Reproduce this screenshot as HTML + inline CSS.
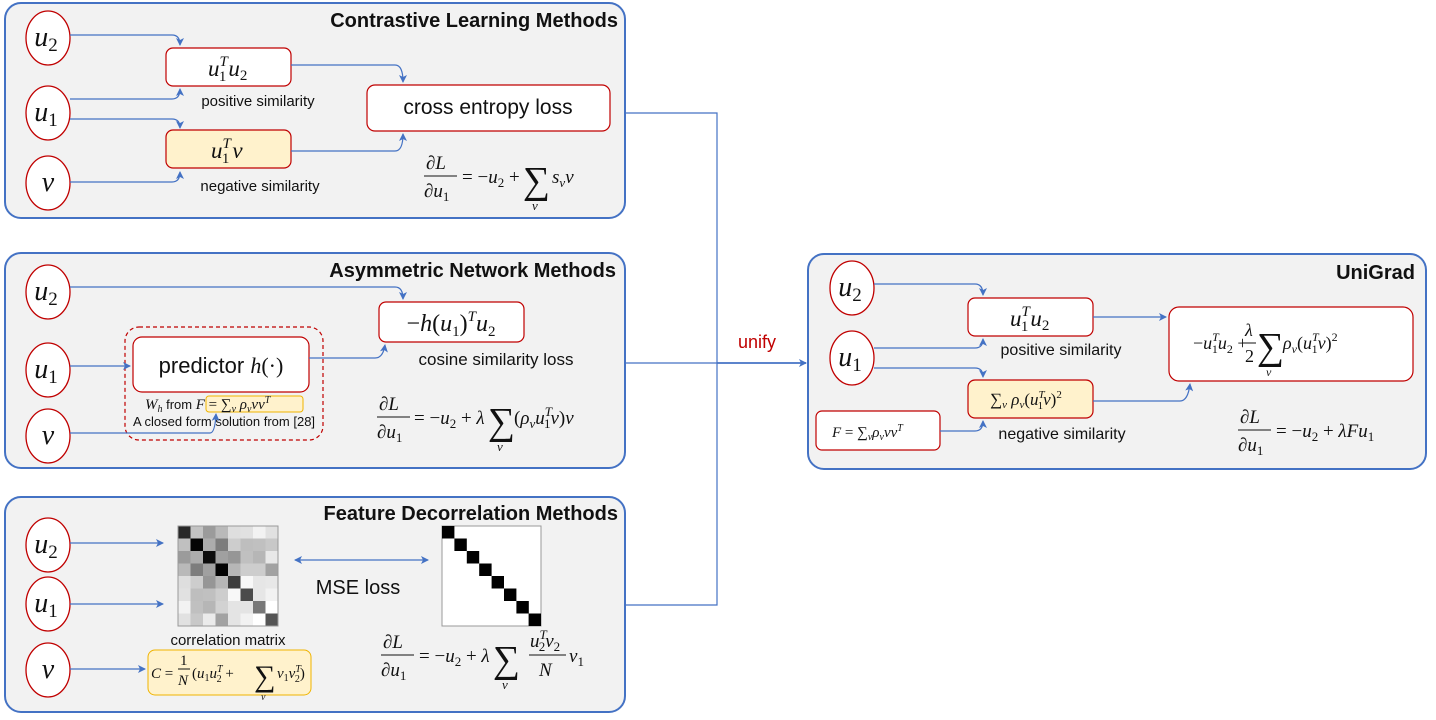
<!DOCTYPE html>
<html><head><meta charset="utf-8"><style>
html,body{margin:0;padding:0;background:#fff;}
svg{display:block;}
.s{font-family:"Liberation Sans",sans-serif;fill:#111;}
.m{font-family:"Liberation Serif","DejaVu Serif",serif;font-style:italic;fill:#111;}
.r{font-family:"Liberation Serif","DejaVu Serif",serif;fill:#111;}
.n{font-style:normal;}
.i{font-style:italic;}
.t{font-family:"Liberation Sans",sans-serif;font-weight:bold;fill:#111;font-size:20px;}
.c{fill:none;stroke:#4472c4;stroke-width:1.2;}
</style></head><body>
<svg width="1436" height="720" viewBox="0 0 1436 720" xmlns="http://www.w3.org/2000/svg">
<defs><marker id="a" markerWidth="8" markerHeight="8" refX="7" refY="4" orient="auto" markerUnits="userSpaceOnUse"><path d="M0,0 L8,4 L0,8 L2,4 z" fill="#4472c4"/></marker>
<marker id="b" markerWidth="8" markerHeight="8" refX="1" refY="4" orient="auto" markerUnits="userSpaceOnUse"><path d="M8,0 L0,4 L8,8 L6,4 z" fill="#4472c4"/></marker></defs>

<g fill="#f2f2f2" stroke="#4472c4" stroke-width="2">
<rect x="5" y="3" width="620" height="215" rx="16"/>
<rect x="5" y="253" width="620" height="215" rx="16"/>
<rect x="5" y="497" width="620" height="215" rx="16"/>
<rect x="808" y="254" width="618" height="215" rx="16"/>
</g>
<text class="t" x="618" y="27" text-anchor="end">Contrastive Learning Methods</text>
<text class="t" x="616" y="277" text-anchor="end">Asymmetric Network Methods</text>
<text class="t" x="618" y="520" text-anchor="end">Feature Decorrelation Methods</text>
<text class="t" x="1415" y="279" text-anchor="end">UniGrad</text>

<path class="c" d="M625,113 H717 V605 H625"/>
<path class="c" d="M625,363 H717"/>
<path d="M717,363 H806" fill="none" stroke="#4472c4" stroke-width="1.8" marker-end="url(#a)"/>
<text x="757" y="348" text-anchor="middle" class="s" style="fill:#c00000;font-size:18px">unify</text>

<g fill="#fff" stroke="#c00000" stroke-width="1.3">
<ellipse cx="48" cy="38" rx="22" ry="27"/><ellipse cx="48" cy="113" rx="22" ry="27"/><ellipse cx="48" cy="183" rx="22" ry="27"/>
<ellipse cx="48" cy="292" rx="22" ry="27"/><ellipse cx="48" cy="370" rx="22" ry="27"/><ellipse cx="48" cy="436" rx="22" ry="27"/>
<ellipse cx="48" cy="545" rx="22" ry="27"/><ellipse cx="48" cy="604" rx="22" ry="27"/><ellipse cx="48" cy="670" rx="22" ry="27"/>
<ellipse cx="852" cy="288" rx="22" ry="27"/><ellipse cx="852" cy="358" rx="22" ry="27"/>
</g>
<g class="m" font-size="28" text-anchor="middle">
<text x="46" y="46">u<tspan class="n" font-size="19" dy="5">2</tspan></text>
<text x="46" y="121">u<tspan class="n" font-size="19" dy="5">1</tspan></text>
<text x="48" y="191">v</text>
<text x="46" y="300">u<tspan class="n" font-size="19" dy="5">2</tspan></text>
<text x="46" y="378">u<tspan class="n" font-size="19" dy="5">1</tspan></text>
<text x="48" y="444">v</text>
<text x="46" y="553">u<tspan class="n" font-size="19" dy="5">2</tspan></text>
<text x="46" y="612">u<tspan class="n" font-size="19" dy="5">1</tspan></text>
<text x="48" y="678">v</text>
<text x="850" y="296">u<tspan class="n" font-size="19" dy="5">2</tspan></text>
<text x="850" y="366">u<tspan class="n" font-size="19" dy="5">1</tspan></text>
</g>

<!-- Panel 1 -->
<rect x="166" y="48" width="125" height="38" rx="7" fill="#fff" stroke="#c00000" stroke-width="1.2"/>
<rect x="166" y="130" width="125" height="38" rx="7" fill="#fff2cc" stroke="#c00000" stroke-width="1.2"/>
<rect x="367" y="85" width="243" height="46" rx="8" fill="#fff" stroke="#c00000" stroke-width="1.2"/>
<text class="m" x="208" y="76" font-size="23">u<tspan font-size="15" dy="-10">T</tspan><tspan font-size="15" class="n" dx="-9" dy="15">1</tspan><tspan font-size="23" dx="2" dy="-5">u</tspan><tspan font-size="15" class="n" dy="4">2</tspan></text>
<text class="m" x="211" y="158" font-size="23">u<tspan font-size="15" dy="-10">T</tspan><tspan font-size="15" class="n" dx="-9" dy="15">1</tspan><tspan font-size="23" dx="3" dy="-5">v</tspan></text>
<text class="s" x="488" y="114" font-size="21" text-anchor="middle">cross entropy loss</text>
<text class="s" x="258" y="106" font-size="15" text-anchor="middle">positive similarity</text>
<text class="s" x="260" y="191" font-size="15" text-anchor="middle">negative similarity</text>
<path class="c" d="M70,35 H172 Q180,35 180,45" marker-end="url(#a)"/>
<path class="c" d="M70,99 H172 Q180,99 180,89" marker-end="url(#a)"/>
<path class="c" d="M70,119 H172 Q180,119 180,128" marker-end="url(#a)"/>
<path class="c" d="M70,182 H172 Q180,182 180,172" marker-end="url(#a)"/>
<path class="c" d="M291,65 H395 Q403,65 403,82" marker-end="url(#a)"/>
<path class="c" d="M291,151 H395 Q403,151 403,134" marker-end="url(#a)"/>
<g class="m" font-size="19">
<text x="426" y="169">∂L</text><line x1="424" y1="176" x2="457" y2="176" stroke="#111"/>
<text x="424" y="197">∂u<tspan class="n" font-size="13" dy="4">1</tspan></text>
<text x="462" y="183"><tspan class="n">= −</tspan>u<tspan class="n" font-size="13" dy="4">2</tspan><tspan class="n" dy="-4"> +</tspan></text>
<text class="r" x="523" y="193" font-size="38">∑</text><text x="532" y="210" font-size="13">v</text>
<text x="552" y="183">s<tspan font-size="13" dy="4">v</tspan><tspan dy="-4">v</tspan></text>
</g>

<!-- Panel 2 -->
<rect x="125" y="327" width="198" height="113" rx="14" fill="none" stroke="#c00000" stroke-width="1.2" stroke-dasharray="4,3"/>
<rect x="133" y="337" width="176" height="55" rx="9" fill="#fff" stroke="#c00000" stroke-width="1.2"/>
<rect x="379" y="302" width="145" height="40" rx="7" fill="#fff" stroke="#c00000" stroke-width="1.2"/>
<rect x="206" y="396" width="97" height="16" rx="3" fill="#fff2cc" stroke="#f0b400" stroke-width="1"/>
<text x="221" y="373" font-size="22" text-anchor="middle"><tspan class="s">predictor </tspan><tspan class="m">h</tspan><tspan class="r">(·)</tspan></text>
<text x="451" y="331" font-size="24" text-anchor="middle" class="m"><tspan class="n">−</tspan>h<tspan class="n">(</tspan>u<tspan class="n" font-size="15" dy="5">1</tspan><tspan class="n" dy="-5">)</tspan><tspan font-size="15" dy="-10">T</tspan><tspan dy="10">u</tspan><tspan class="n" font-size="15" dy="5">2</tspan></text>
<text class="s" x="496" y="365" font-size="17" text-anchor="middle">cosine similarity loss</text>
<text x="145" y="409" font-size="13"><tspan class="m" font-size="15">W</tspan><tspan class="m" font-size="10" dy="3">h</tspan><tspan class="s" dy="-3"> from </tspan><tspan class="m" font-size="15">F </tspan><tspan class="r" font-size="15">= ∑</tspan><tspan class="m" font-size="10" dy="3">v</tspan><tspan class="m" font-size="15" dy="-3"> ρ</tspan><tspan class="m" font-size="10" dy="3">v</tspan><tspan class="m" font-size="15" dy="-3">vv</tspan><tspan class="m" font-size="10" dy="-6">T</tspan></text>
<text class="s" x="224" y="426" font-size="13" text-anchor="middle">A closed form  solution from [28]</text>
<path class="c" d="M70,366 H130" marker-end="url(#a)"/>
<path class="c" d="M70,433 H210 Q215,433 216,414" marker-end="url(#a)"/>
<path class="c" d="M70,287 H395 Q403,287 403,299" marker-end="url(#a)"/>
<path class="c" d="M309,358 H375 Q383,358 385,345" marker-end="url(#a)"/>
<g class="m" font-size="19">
<text x="379" y="410">∂L</text><line x1="377" y1="417" x2="410" y2="417" stroke="#111"/>
<text x="377" y="438">∂u<tspan class="n" font-size="13" dy="4">1</tspan></text>
<text x="414" y="424"><tspan class="n">= −</tspan>u<tspan class="n" font-size="13" dy="4">2</tspan><tspan class="n" dy="-4"> + </tspan>λ</text>
<text class="r" x="488" y="434" font-size="38">∑</text><text x="497" y="451" font-size="13">v</text>
<text x="514" y="424"><tspan class="n">(</tspan>ρ<tspan font-size="13" dy="4">v</tspan><tspan dy="-4">u</tspan><tspan font-size="13" dy="-8">T</tspan><tspan font-size="13" class="n" dx="-8" dy="12">1</tspan><tspan dy="-4">v</tspan><tspan class="n">)</tspan>v</text>
</g>

<!-- Panel 3 -->
<g transform="translate(178,526)">
<rect x="0" y="0" width="100" height="100" fill="#fff" stroke="#999"/>
<g>
<rect x="0" y="0" width="12.5" height="12.5" fill="rgb(40,40,40)"/><rect x="12.5" y="0" width="12.5" height="12.5" fill="rgb(195,195,195)"/><rect x="25" y="0" width="12.5" height="12.5" fill="rgb(155,155,155)"/><rect x="37.5" y="0" width="12.5" height="12.5" fill="rgb(185,185,185)"/><rect x="50" y="0" width="12.5" height="12.5" fill="rgb(222,222,222)"/><rect x="62.5" y="0" width="12.5" height="12.5" fill="rgb(225,225,225)"/><rect x="75" y="0" width="12.5" height="12.5" fill="rgb(242,242,242)"/><rect x="87.5" y="0" width="12.5" height="12.5" fill="rgb(225,225,225)"/>
<rect x="0" y="12.5" width="12.5" height="12.5" fill="rgb(192,192,192)"/><rect x="12.5" y="12.5" width="12.5" height="12.5" fill="rgb(5,5,5)"/><rect x="25" y="12.5" width="12.5" height="12.5" fill="rgb(172,172,172)"/><rect x="37.5" y="12.5" width="12.5" height="12.5" fill="rgb(125,125,125)"/><rect x="50" y="12.5" width="12.5" height="12.5" fill="rgb(205,205,205)"/><rect x="62.5" y="12.5" width="12.5" height="12.5" fill="rgb(190,190,190)"/><rect x="75" y="12.5" width="12.5" height="12.5" fill="rgb(192,192,192)"/><rect x="87.5" y="12.5" width="12.5" height="12.5" fill="rgb(200,200,200)"/>
<rect x="0" y="25" width="12.5" height="12.5" fill="rgb(155,155,155)"/><rect x="12.5" y="25" width="12.5" height="12.5" fill="rgb(172,172,172)"/><rect x="25" y="25" width="12.5" height="12.5" fill="rgb(12,12,12)"/><rect x="37.5" y="25" width="12.5" height="12.5" fill="rgb(160,160,160)"/><rect x="50" y="25" width="12.5" height="12.5" fill="rgb(150,150,150)"/><rect x="62.5" y="25" width="12.5" height="12.5" fill="rgb(192,192,192)"/><rect x="75" y="25" width="12.5" height="12.5" fill="rgb(182,182,182)"/><rect x="87.5" y="25" width="12.5" height="12.5" fill="rgb(232,232,232)"/>
<rect x="0" y="37.5" width="12.5" height="12.5" fill="rgb(185,185,185)"/><rect x="12.5" y="37.5" width="12.5" height="12.5" fill="rgb(125,125,125)"/><rect x="25" y="37.5" width="12.5" height="12.5" fill="rgb(160,160,160)"/><rect x="37.5" y="37.5" width="12.5" height="12.5" fill="rgb(2,2,2)"/><rect x="50" y="37.5" width="12.5" height="12.5" fill="rgb(182,182,182)"/><rect x="62.5" y="37.5" width="12.5" height="12.5" fill="rgb(205,205,205)"/><rect x="75" y="37.5" width="12.5" height="12.5" fill="rgb(205,205,205)"/><rect x="87.5" y="37.5" width="12.5" height="12.5" fill="rgb(162,162,162)"/>
<rect x="0" y="50" width="12.5" height="12.5" fill="rgb(222,222,222)"/><rect x="12.5" y="50" width="12.5" height="12.5" fill="rgb(205,205,205)"/><rect x="25" y="50" width="12.5" height="12.5" fill="rgb(150,150,150)"/><rect x="37.5" y="50" width="12.5" height="12.5" fill="rgb(182,182,182)"/><rect x="50" y="50" width="12.5" height="12.5" fill="rgb(60,60,60)"/><rect x="62.5" y="50" width="12.5" height="12.5" fill="rgb(248,248,248)"/><rect x="75" y="50" width="12.5" height="12.5" fill="rgb(230,230,230)"/><rect x="87.5" y="50" width="12.5" height="12.5" fill="rgb(232,232,232)"/>
<rect x="0" y="62.5" width="12.5" height="12.5" fill="rgb(225,225,225)"/><rect x="12.5" y="62.5" width="12.5" height="12.5" fill="rgb(190,190,190)"/><rect x="25" y="62.5" width="12.5" height="12.5" fill="rgb(192,192,192)"/><rect x="37.5" y="62.5" width="12.5" height="12.5" fill="rgb(205,205,205)"/><rect x="50" y="62.5" width="12.5" height="12.5" fill="rgb(248,248,248)"/><rect x="62.5" y="62.5" width="12.5" height="12.5" fill="rgb(75,75,75)"/><rect x="75" y="62.5" width="12.5" height="12.5" fill="rgb(230,230,230)"/><rect x="87.5" y="62.5" width="12.5" height="12.5" fill="rgb(242,242,242)"/>
<rect x="0" y="75" width="12.5" height="12.5" fill="rgb(242,242,242)"/><rect x="12.5" y="75" width="12.5" height="12.5" fill="rgb(192,192,192)"/><rect x="25" y="75" width="12.5" height="12.5" fill="rgb(182,182,182)"/><rect x="37.5" y="75" width="12.5" height="12.5" fill="rgb(210,210,210)"/><rect x="50" y="75" width="12.5" height="12.5" fill="rgb(228,228,228)"/><rect x="62.5" y="75" width="12.5" height="12.5" fill="rgb(228,228,228)"/><rect x="75" y="75" width="12.5" height="12.5" fill="rgb(120,120,120)"/><rect x="87.5" y="75" width="12.5" height="12.5" fill="rgb(255,255,255)"/>
<rect x="0" y="87.5" width="12.5" height="12.5" fill="rgb(225,225,225)"/><rect x="12.5" y="87.5" width="12.5" height="12.5" fill="rgb(200,200,200)"/><rect x="25" y="87.5" width="12.5" height="12.5" fill="rgb(235,235,235)"/><rect x="37.5" y="87.5" width="12.5" height="12.5" fill="rgb(162,162,162)"/><rect x="50" y="87.5" width="12.5" height="12.5" fill="rgb(228,228,228)"/><rect x="62.5" y="87.5" width="12.5" height="12.5" fill="rgb(242,242,242)"/><rect x="75" y="87.5" width="12.5" height="12.5" fill="rgb(255,255,255)"/><rect x="87.5" y="87.5" width="12.5" height="12.5" fill="rgb(85,85,85)"/>
</g>
<rect x="0" y="0" width="100" height="100" fill="none" stroke="#999"/>
</g>
<g transform="translate(442,526)">
<rect x="0" y="0" width="99" height="100" fill="#fff" stroke="#999"/>
<g fill="#000">
<rect x="0" y="0" width="12.4" height="12.5"/><rect x="12.4" y="12.5" width="12.4" height="12.5"/><rect x="24.8" y="25" width="12.4" height="12.5"/><rect x="37.2" y="37.5" width="12.4" height="12.5"/><rect x="49.6" y="50" width="12.4" height="12.5"/><rect x="62" y="62.5" width="12.4" height="12.5"/><rect x="74.4" y="75" width="12.4" height="12.5"/><rect x="86.6" y="87.5" width="12.4" height="12.5"/>
</g></g>
<path class="c" d="M295,560 H428" marker-start="url(#b)" marker-end="url(#a)"/>
<text class="s" x="358" y="594" font-size="20" text-anchor="middle">MSE loss</text>
<text class="s" x="228" y="645" font-size="15" text-anchor="middle">correlation matrix</text>
<rect x="148" y="650" width="163" height="45" rx="7" fill="#fff2cc" stroke="#f0b400" stroke-width="1"/>
<g class="m" font-size="15">
<text x="151" y="678">C <tspan class="n">=</tspan></text>
<text x="180" y="665" class="n">1</text><line x1="178" y1="669" x2="190" y2="669" stroke="#111"/><text x="178" y="685">N</text>
<text x="192" y="678"><tspan class="n">(</tspan>u<tspan font-size="10" class="n" dy="3">1</tspan><tspan dy="-3">u</tspan><tspan font-size="10" dy="-6">T</tspan><tspan font-size="10" class="n" dx="-6" dy="10">2</tspan><tspan class="n" dy="-4"> +</tspan></text>
<text class="r" x="254" y="686" font-size="30">∑</text><text x="261" y="700" font-size="10">v</text>
<text x="277" y="678">v<tspan font-size="10" class="n" dy="3">1</tspan><tspan dy="-3">v</tspan><tspan font-size="10" dy="-6">T</tspan><tspan font-size="10" class="n" dx="-6" dy="10">2</tspan><tspan class="n" dy="-4">)</tspan></text>
</g>
<path class="c" d="M70,543 H163" marker-end="url(#a)"/>
<path class="c" d="M70,604 H163" marker-end="url(#a)"/>
<path class="c" d="M70,669 H145" marker-end="url(#a)"/>
<g class="m" font-size="19">
<text x="383" y="648">∂L</text><line x1="381" y1="655" x2="414" y2="655" stroke="#111"/>
<text x="381" y="676">∂u<tspan class="n" font-size="13" dy="4">1</tspan></text>
<text x="419" y="662"><tspan class="n">= −</tspan>u<tspan class="n" font-size="13" dy="4">2</tspan><tspan class="n" dy="-4"> + </tspan>λ</text>
<text class="r" x="493" y="672" font-size="38">∑</text><text x="502" y="689" font-size="13">v</text>
<text x="530" y="647">u<tspan font-size="13" dy="-8">T</tspan><tspan font-size="13" class="n" dx="-8" dy="12">2</tspan><tspan dy="-4">v</tspan><tspan font-size="13" class="n" dy="4">2</tspan></text>
<line x1="529" y1="655" x2="566" y2="655" stroke="#111"/><text x="539" y="676">N</text>
<text x="569" y="662">v<tspan class="n" font-size="13" dy="4">1</tspan></text>
</g>

<!-- Panel 4 UniGrad -->
<rect x="968" y="298" width="125" height="38" rx="7" fill="#fff" stroke="#c00000" stroke-width="1.2"/>
<rect x="968" y="380" width="125" height="38" rx="7" fill="#fff2cc" stroke="#c00000" stroke-width="1.2"/>
<rect x="1169" y="307" width="244" height="74" rx="10" fill="#fff" stroke="#c00000" stroke-width="1.2"/>
<rect x="816" y="411" width="124" height="39" rx="6" fill="#fff" stroke="#c00000" stroke-width="1.2"/>
<text class="m" x="1010" y="326" font-size="23">u<tspan font-size="15" dy="-10">T</tspan><tspan font-size="15" class="n" dx="-9" dy="15">1</tspan><tspan font-size="23" dx="2" dy="-5">u</tspan><tspan font-size="15" class="n" dy="4">2</tspan></text>
<text x="990" y="405" font-size="17" class="m"><tspan class="r n">∑</tspan><tspan font-size="11" dy="3">v</tspan><tspan dy="-3"> ρ</tspan><tspan font-size="11" dy="3">v</tspan><tspan class="n" dy="-3">(</tspan>u<tspan font-size="11" dy="-7">T</tspan><tspan font-size="11" class="n" dx="-7" dy="11">1</tspan><tspan dy="-4">v</tspan><tspan class="n">)</tspan><tspan class="n" font-size="11" dy="-7">2</tspan></text>
<text x="832" y="437" font-size="15" class="m">F <tspan class="r n">= ∑</tspan><tspan font-size="10" dy="3">v</tspan><tspan dy="-3">ρ</tspan><tspan font-size="10" dy="3">v</tspan><tspan dy="-3">vv</tspan><tspan font-size="10" dy="-6">T</tspan></text>
<text class="s" x="1061" y="355" font-size="16" text-anchor="middle">positive similarity</text>
<text class="s" x="1062" y="439" font-size="16" text-anchor="middle">negative similarity</text>
<g class="m" font-size="18">
<text x="1193" y="349"><tspan class="n">−</tspan>u<tspan font-size="12" dy="-8">T</tspan><tspan font-size="12" class="n" dx="-7" dy="12">1</tspan><tspan dy="-4">u</tspan><tspan font-size="12" class="n" dy="4">2</tspan><tspan class="n" dy="-4"> +</tspan></text>
<text x="1245" y="336">λ</text><line x1="1243" y1="343" x2="1256" y2="343" stroke="#111"/><text x="1245" y="362" class="n">2</text>
<text class="r" x="1257" y="359" font-size="38">∑</text><text x="1266" y="376" font-size="12">v</text>
<text x="1283" y="349">ρ<tspan font-size="12" dy="4">v</tspan><tspan class="n" dy="-4">(</tspan>u<tspan font-size="12" dy="-8">T</tspan><tspan font-size="12" class="n" dx="-7" dy="12">1</tspan><tspan dy="-4">v</tspan><tspan class="n">)</tspan><tspan font-size="12" class="n" dy="-8">2</tspan></text>
</g>
<g class="m" font-size="19">
<text x="1240" y="423">∂L</text><line x1="1238" y1="430" x2="1271" y2="430" stroke="#111"/>
<text x="1238" y="451">∂u<tspan class="n" font-size="13" dy="4">1</tspan></text>
<text x="1276" y="437"><tspan class="n">= −</tspan>u<tspan class="n" font-size="13" dy="4">2</tspan><tspan class="n" dy="-4"> + </tspan>λFu<tspan class="n" font-size="13" dy="4">1</tspan></text>
</g>
<path class="c" d="M874,284 H975 Q983,284 983,295" marker-end="url(#a)"/>
<path class="c" d="M874,348 H975 Q983,348 983,339" marker-end="url(#a)"/>
<path class="c" d="M874,368 H975 Q983,368 983,377" marker-end="url(#a)"/>
<path class="c" d="M940,431 H975 Q983,431 983,421" marker-end="url(#a)"/>
<path class="c" d="M1093,317 H1166" marker-end="url(#a)"/>
<path class="c" d="M1093,401 H1180 Q1188,401 1190,384" marker-end="url(#a)"/>
</svg>
</body></html>
